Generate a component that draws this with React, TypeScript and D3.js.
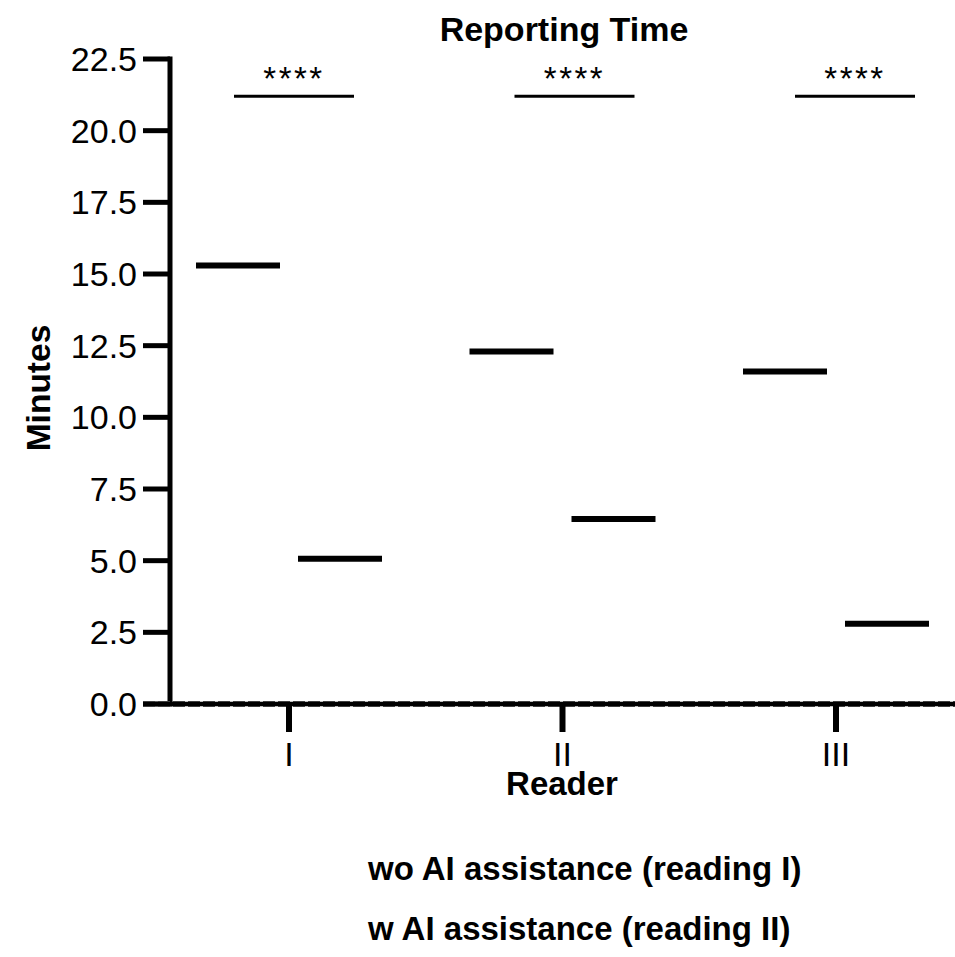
import React from "react";
import * as d3 from "d3";

// reading times (minutes), group means per reader
const readers = ["I", "II", "III"];
const groups = ["wo", "w"];
const meanWithoutAI = [15.3, 12.3, 11.6];
const meanWithAI = [5.07, 6.45, 2.8];
const sigLabels = ["****", "****", "****"];
const sigLevel = 21.2;
const yTicks = [0, 2.5, 5, 7.5, 10, 12.5, 15, 17.5, 20, 22.5];
const legendLabels = ["wo AI assistance (reading I)", "w AI assistance (reading II)"];

const W = 955;
const H = 957;
const FONT = "'Liberation Sans', Arial, sans-serif";

export default function App() {
  const yScale = d3.scaleLinear().domain([0, 22.5]).range([704, 59]);
  const xScale = d3.scalePoint<string>().domain(readers).range([289, 836]);
  const groupScale = d3.scaleBand<string>().domain(groups).range([-102, 102]);
  // GraphPad puts the comparison bars a little right of the ticks
  const sigScale = d3.scalePoint<string>().domain(readers).range([294, 855]);

  const axisX = 170;
  const axisY = yScale(0);
  const halfLine = 42;

  const means = readers.flatMap((r, i) => [
    { reader: r, group: "wo", value: meanWithoutAI[i] },
    { reader: r, group: "w", value: meanWithAI[i] },
  ]);

  return (
    <svg width={W} height={H} style={{ display: "block", position: "absolute", left: 0, top: 0 }}
      fontFamily={FONT}>
      <rect width={W} height={H} fill="white" />

      <text x={564} y={41} textAnchor="middle" fontSize={34} fontWeight="bold">Reporting Time</text>

      {/* y axis */}
      <line x1={axisX} x2={axisX} y1={yScale(22.5) - 2.5} y2={axisY + 2.5} stroke="black" strokeWidth={5} />
      {yTicks.map((t) => (
        <g key={t}>
          <line x1={143} x2={axisX} y1={yScale(t)} y2={yScale(t)} stroke="black" strokeWidth={5} />
          <text x={137} y={yScale(t) + 12} textAnchor="end" fontSize={34}>{t.toFixed(1)}</text>
        </g>
      ))}
      <text transform={`translate(50,388) rotate(-90)`} textAnchor="middle" fontSize={33.5} fontWeight="bold">Minutes</text>

      {/* x axis */}
      <line x1={143} x2={W} y1={axisY} y2={axisY} stroke="#555" strokeWidth={6} strokeDasharray="12 3" />
      <line x1={143} x2={W} y1={axisY} y2={axisY} stroke="black" strokeWidth={4.5} />
      {readers.map((r) => (
        <g key={r}>
          <line x1={xScale(r)!} x2={xScale(r)!} y1={axisY} y2={732} stroke="black" strokeWidth={6} />
          <text x={xScale(r)!} y={766} textAnchor="middle" fontSize={34}>{r}</text>
        </g>
      ))}
      <text x={562} y={795} textAnchor="middle" fontSize={33} fontWeight="bold">Reader</text>

      {/* group means */}
      {means.map((d) => {
        const cx = xScale(d.reader)! + groupScale(d.group)! + groupScale.bandwidth() / 2;
        return (
          <line key={d.reader + d.group} x1={cx - halfLine} x2={cx + halfLine}
            y1={yScale(d.value)} y2={yScale(d.value)} stroke="black" strokeWidth={6} />
        );
      })}

      {/* significance */}
      {readers.map((r, i) => (
        <g key={"sig" + r}>
          <line x1={sigScale(r)! - 60} x2={sigScale(r)! + 60} y1={yScale(sigLevel)} y2={yScale(sigLevel)}
            stroke="black" strokeWidth={3} />
          <text x={sigScale(r)!} y={90} textAnchor="middle" fontSize={33} letterSpacing={2.5}>{sigLabels[i]}</text>
        </g>
      ))}

      {/* legend */}
      {legendLabels.map((l, i) => (
        <text key={l} x={368} y={880 + i * 60} fontSize={33} fontWeight="bold">{l}</text>
      ))}
    </svg>
  );
}
